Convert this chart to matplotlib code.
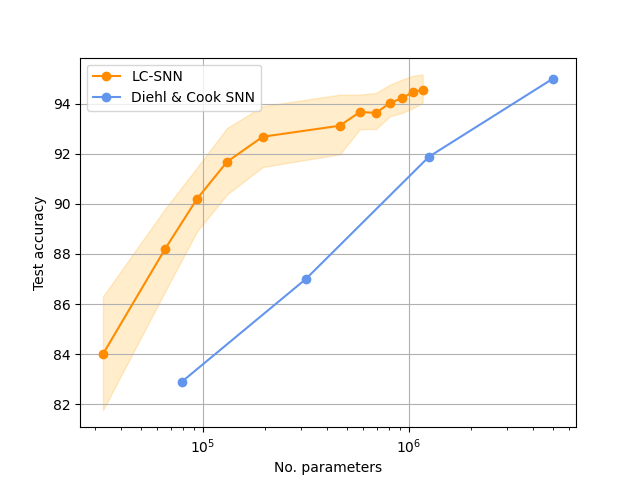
import numpy as np
import matplotlib
matplotlib.use("Agg")
import matplotlib.pyplot as plt

# LC-SNN results (mean with min/max band)
lc_params = [32700, 65500, 93600, 131000, 195000, 462000, 578000, 692000, 809000, 925000, 1050000, 1165000]
lc_acc = [84.0, 88.2, 90.2, 91.68, 92.68, 93.12, 93.67, 93.63, 94.03, 94.22, 94.47, 94.55]
lc_upper = [86.3, 89.8, 91.45, 93.03, 93.9, 94.36, 94.36, 94.43, 94.76, 94.96, 95.12, 95.16]
lc_lower = [81.76, 86.5, 88.9, 90.38, 91.47, 91.98, 92.98, 92.99, 93.5, 93.63, 93.83, 94.03]

# Diehl & Cook SNN results
dc_params = [79100, 316000, 1250000, 5000000]
dc_acc = [82.9, 87.0, 91.88, 95.0]

fig, ax = plt.subplots(figsize=(6.4, 4.8), dpi=100)

ax.plot(lc_params, lc_acc, 'o-', color='darkorange', label='LC-SNN')
ax.fill_between(lc_params, lc_lower, lc_upper, color='orange', alpha=0.2)
ax.plot(dc_params, dc_acc, 'o-', color='cornflowerblue', label='Diehl & Cook SNN')

ax.set_xscale('log')
ax.set_xlim(25300, 6.47e6)
ax.set_ylim(81.08, 95.84)
ax.set_xlabel('No. parameters')
ax.set_ylabel('Test accuracy')
ax.grid(True)
ax.legend(loc='upper left')

fig.savefig('out.png')
